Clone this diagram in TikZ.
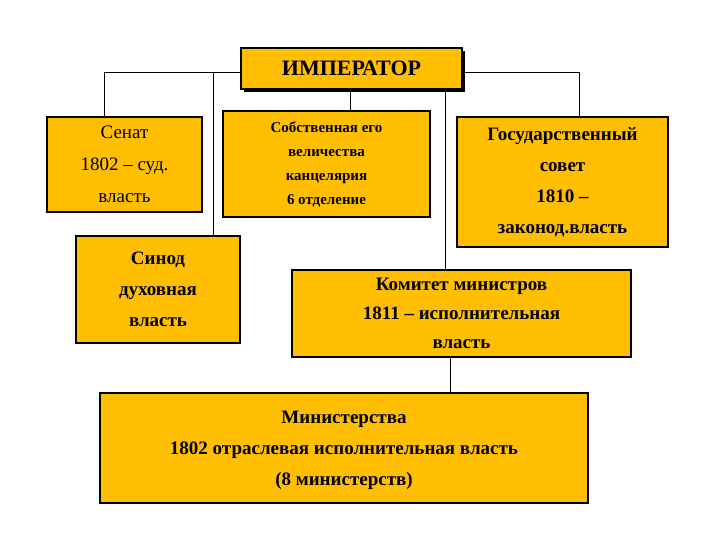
\documentclass[tikz,border=0pt]{standalone}
\usepackage{fontspec}
\setmainfont{Liberation Serif}
\definecolor{boxfill}{HTML}{FFBF00}
\begin{document}
\begin{tikzpicture}[x=1pt,y=-1pt,
  box/.style={draw=black,line width=1.2pt,fill=boxfill,align=center,inner sep=0pt,font=\bfseries},
  conn/.style={line width=0.8pt}]
\useasboundingbox (0,0) rectangle (720,540);
% shadow for emperor
\fill[black] (244,51) rectangle (465,92);
\node[box,minimum width=221pt,minimum height=41pt,font=\bfseries\fontsize{22}{26}\selectfont] (emp) at (351.5,68.5) {ИМПЕРАТОР};
\node[box,minimum width=155pt,minimum height=95pt,font=\fontsize{19}{32}\selectfont] (sen) at (124.5,164.5) {Сенат\\1802 – суд.\\власть};
\node[box,minimum width=207pt,minimum height=106pt,font=\bfseries\fontsize{15}{24}\selectfont] (sob) at (326.5,164) {Собственная его\\величества\\канцелярия\\6 отделение};
\node[box,minimum width=211pt,minimum height=130pt,font=\bfseries\fontsize{19}{31}\selectfont] (gos) at (562.5,182) {Государственный\\совет\\1810 –\\законод.власть};
\node[box,minimum width=164pt,minimum height=107pt,font=\bfseries\fontsize{19}{31}\selectfont] (sin) at (158,289.5) {Синод\\духовная\\власть};
\node[box,minimum width=339pt,minimum height=87pt,font=\bfseries\fontsize{19}{29}\selectfont] (kom) at (461.5,313.5) {Комитет министров\\1811 – исполнительная\\власть};
\node[box,minimum width=488pt,minimum height=110pt,font=\bfseries\fontsize{19}{31}\selectfont,text depth=0pt] (min) at (344,448) {Министерства\\1802 отраслевая исполнительная власть\\(8 министерств)};
\coordinate (jl) at (104,72);
\coordinate (jm) at (213,72);
\coordinate (jr) at (579,72);
\draw[conn] (emp.west |- jl) -- (jl) -- (jl |- sen.north);
\draw[conn] (jm) -- (jm |- sin.north);
\draw[conn] (emp.east |- jr) -- (jr) -- (jr |- gos.north);
\draw[conn] (sob.north -| 350,0) -- (350,89);
\draw[conn] (445,89) -- (445,270);
\draw[conn] (450,357) -- (450,393);
\end{tikzpicture}
\end{document}
